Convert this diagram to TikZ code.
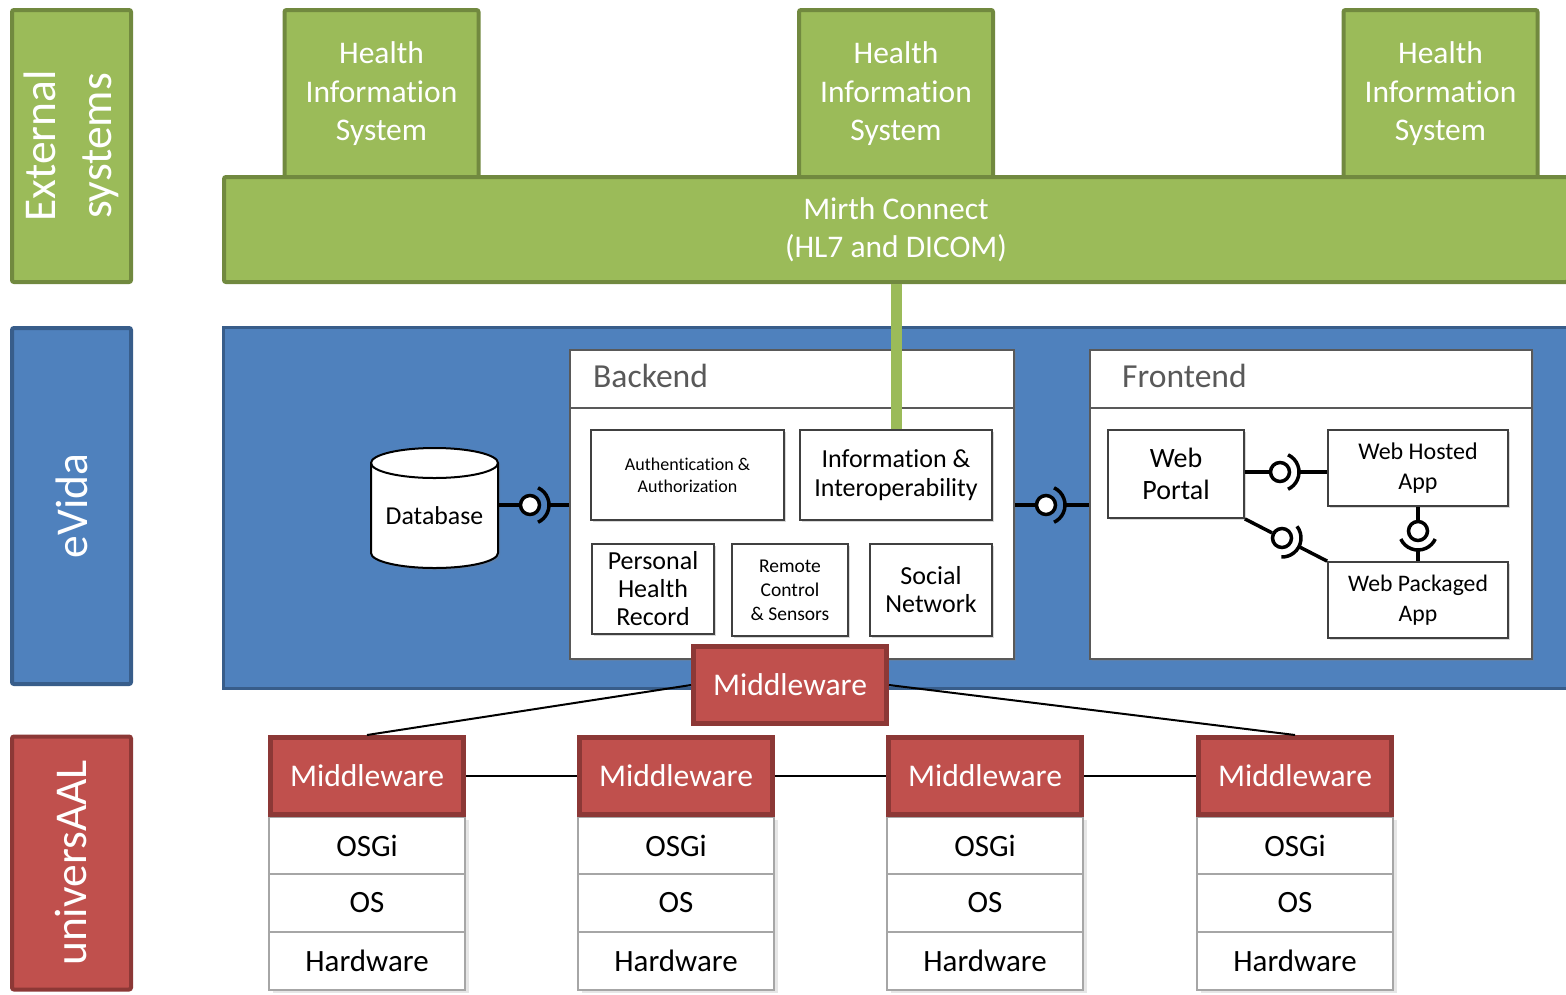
\documentclass[tikz,border=0pt]{standalone}
\usepackage{fontspec}
\setmainfont[Ligatures=NoCommon]{Carlito}
\usetikzlibrary{shadows}

\definecolor{hisfill}{HTML}{9BBB59}
\definecolor{hisline}{HTML}{71893F}
\definecolor{evfill}{HTML}{4F81BD}
\definecolor{evline}{HTML}{385D8A}
\definecolor{uafill}{HTML}{C0504D}
\definecolor{ualine}{HTML}{8C3836}
\definecolor{headgray}{HTML}{595959}

\begin{document}
\begin{tikzpicture}[x=1pt,y=-1pt,
  sidebox/.style={line width=4,rounded corners=2,text=white,align=center,rotate=90,inner sep=0,minimum height=119,font=\fontsize{45.5}{56}\selectfont},
  greenbox/.style={draw=hisline,fill=hisfill,line width=4,rounded corners=2,text=white,align=center,inner sep=0,font=\fontsize{31.5}{38.5}\selectfont},
  layerbox/.style={draw=black!65,fill=white,line width=2,drop shadow={shadow xshift=2pt,shadow yshift=-2pt,opacity=.3}},
  header/.style={text=headgray,anchor=west,inner sep=0,font=\fontsize{33.6}{40}\selectfont},
  compbox/.style={draw=black!75,fill=white,line width=1.8,align=center,inner sep=0,drop shadow={shadow xshift=2pt,shadow yshift=-2pt,opacity=.3}},
  mwbox/.style={draw=ualine,fill=uafill,line width=5,text=white,inner sep=0,minimum width=193,minimum height=77,font=\fontsize{31.6}{38}\selectfont},
  stackbox/.style={draw=black!35,fill=white,line width=1.5,inner sep=0,minimum width=196,font=\fontsize{31}{37}\selectfont,drop shadow={shadow xshift=4pt,shadow yshift=-3pt,opacity=.2}},
  ball/.style={circle,draw,fill=white,line width=3.5,minimum size=19,inner sep=0},
  iface/.style={line width=3.5},
  mwlink/.style={line width=2}]
\path[use as bounding box,clip] (0,0) rectangle (1566,994);

% left column
\node[sidebox,draw=hisline,fill=hisfill,minimum width=272] (ext) at (71.5,146) {External\\systems};
\node[sidebox,draw=evline,fill=evfill,minimum width=356] (evside) at (71.5,506) {eVida};
\node[sidebox,draw=ualine,fill=uafill,minimum width=253] (uaside) at (71.5,863) {universAAL};

% external systems
\foreach \x [count=\i] in {381.5,896,1440.5}
  \node[greenbox,minimum width=194,minimum height=168] (his\i) at (\x,94) {Health\\Information\\System};
\node[greenbox,minimum width=1344,minimum height=105] (mirth) at (896,229.5) {Mirth Connect\\(HL7 and DICOM)};

% eVida
\node[draw=evline,fill=evfill,line width=3,minimum width=1345,minimum height=361] (evida) at (896,508) {};
\node[layerbox,minimum width=444,minimum height=309] (backend) at (792,504.5) {};
\node[layerbox,minimum width=442,minimum height=309] (frontend) at (1311,504.5) {};
\draw[line width=2,black!65] (backend.west |- 0,408) -- (backend.east |- 0,408);
\draw[line width=2,black!65] (frontend.west |- 0,408) -- (frontend.east |- 0,408);
\node[header] (backhead) at (593,376) {Backend};
\node[header] (fronthead) at (1122,376) {Frontend};

\node[compbox,minimum width=193,minimum height=90,font=\fontsize{18}{22}\selectfont] (auth) at (687.5,475) {Authentication \&\\Authorization};
\node[compbox,minimum width=192,minimum height=90,font=\fontsize{26}{29}\selectfont] (info) at (896,475) {Information \&\\Interoperability};
\node[compbox,minimum width=122,minimum height=90,font=\fontsize{26}{28}\selectfont] (phr) at (653,589) {Personal\\Health\\Record};
\node[compbox,minimum width=116,minimum height=92,font=\fontsize{19.5}{24}\selectfont] (remote) at (790,590) {Remote\\Control\\\& Sensors};
\node[compbox,minimum width=122,minimum height=92,font=\fontsize{26}{28}\selectfont] (social) at (931,590) {Social\\Network};

\node[compbox,minimum width=136,minimum height=88,font=\fontsize{28}{32}\selectfont] (portal) at (1176,474) {Web\\Portal};
\node[compbox,minimum width=180,minimum height=76,font=\fontsize{24}{30}\selectfont] (hosted) at (1418,468) {Web Hosted\\App};
\node[compbox,minimum width=180,minimum height=76,font=\fontsize{23.7}{30}\selectfont] (packaged) at (1418,600) {Web Packaged\\App};

% database
\filldraw[fill=white,line width=2,drop shadow={shadow xshift=2pt,shadow yshift=-2pt,opacity=.3}] (371,463) -- (371,553) arc[start angle=180,end angle=360,x radius=63.5pt,y radius=15pt] -- (498,463) arc[start angle=0,end angle=180,x radius=63.5pt,y radius=15pt] -- cycle;
\draw[line width=2] (371,463) arc[start angle=180,end angle=360,x radius=63.5pt,y radius=15pt];
\node[minimum width=127,minimum height=121,inner sep=0] (db) at (434.5,507.5) {};
\node[inner sep=0,font=\fontsize{25.8}{30}\selectfont] (dblabel) at (434.5,516) {Database};

% interfaces
\node[ball] (b1) at (530,505) {};
\draw[iface] (db.east |- b1) -- (b1);
\draw[iface] (b1.center) ++(65:19pt) arc[start angle=65,end angle=-65,radius=19pt];
\draw[iface] (b1.center) ++(19pt,0pt) -- (backend.west |- b1);

\node[ball] (b2) at (1046,505) {};
\draw[iface] (backend.east |- b2) -- (b2);
\draw[iface] (b2.center) ++(65:19pt) arc[start angle=65,end angle=-65,radius=19pt];
\draw[iface] (b2.center) ++(19pt,0pt) -- (frontend.west |- b2);

\node[ball] (b3) at (1280,472) {};
\draw[iface] (portal.east |- b3) -- (b3);
\draw[iface] (b3.center) ++(65:19pt) arc[start angle=65,end angle=-65,radius=19pt];
\draw[iface] (b3.center) ++(19pt,0pt) -- (hosted.west |- b3);

\node[ball] (b4) at (1282,538) {};
\draw[iface] (portal.south east) -- (b4);
\draw[iface] (b4.center) ++(38:19pt) arc[start angle=38,end angle=-92,radius=19pt];
\draw[iface] (b4.center) ++(-27:19pt) -- (packaged.north west);

\node[ball] (b5) at (1418,531) {};
\draw[iface] (hosted.south) -- (b5);
\draw[iface] (b5.center) ++(205:19pt) arc[start angle=205,end angle=335,radius=19pt];
\draw[iface] (b5.center) ++(270:19pt) -- (packaged.north);

% link to mirth
\draw[line width=11,hisfill] (mirth.south -| info.north) -- (info.north);

% universAAL
\node[mwbox,drop shadow={shadow xshift=2pt,shadow yshift=-2pt,opacity=.25}] (mwtop) at (790,685) {Middleware};
\foreach \x [count=\i] in {367,676,985,1295} {
  \node[stackbox,minimum height=57] (osgi\i) at (\x,845.5) {OSGi};
  \node[stackbox,minimum height=58] (os\i) at (\x,903) {OS};
  \node[stackbox,minimum height=58] (hw\i) at (\x,961) {Hardware};
  \node[mwbox] (mw\i) at (\x,776) {Middleware};
}
\foreach \a/\b in {1/2,2/3,3/4}
  \draw[mwlink] (mw\a.east) -- (mw\b.west);
\draw[mwlink] (mwtop.west) -- (mw1.north);
\draw[mwlink] (mwtop.east) -- (mw4.north);
\end{tikzpicture}
\end{document}
